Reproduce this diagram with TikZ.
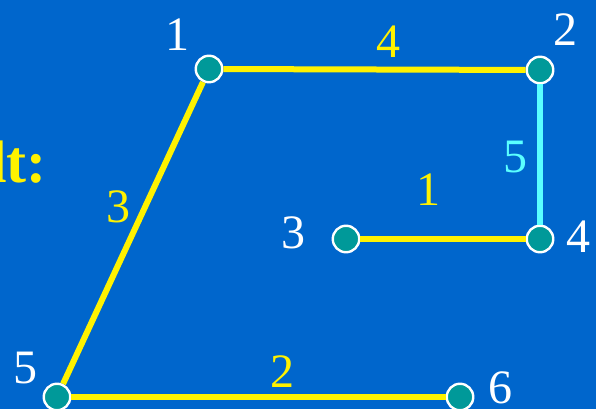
\documentclass[tikz,border=0pt]{standalone}
\usepackage{fontspec}
\setmainfont{Liberation Serif}
\usetikzlibrary{positioning}
\definecolor{bgblue}{RGB}{0,102,204}
\definecolor{vtxteal}{RGB}{0,153,153}
\definecolor{lightcyan}{RGB}{90,255,255}

\begin{document}
\begin{tikzpicture}[x=1pt,y=1pt,
  vtx/.style={circle,draw=white,line width=2.4pt,fill=vtxteal,
              minimum size=26.5pt,inner sep=0pt},
  edge/.style={line width=6pt,yellow},
  num/.style={white,inner sep=0pt,font=\fontsize{48}{48}\selectfont},
  wt/.style={yellow,inner sep=0pt,font=\fontsize{48}{48}\selectfont}]
\fill[bgblue] (0,0) rectangle (596,409);       % background
\useasboundingbox (0,0) rectangle (596,409);
% vertices
\node[vtx] (v1) at (209,340) {};
\node[vtx] (v2) at (540,339) {};
\node[vtx] (v3) at (346,170) {};
\node[vtx] (v4) at (540,170) {};
\node[vtx] (v5) at (57,12) {};
\node[vtx] (v6) at (460,12) {};
% tree edges
\draw[edge] (v1) -- (v2);
\draw[edge,lightcyan] (v2) -- (v4);
\draw[edge] (v3) -- (v4);
\draw[edge] (v1) -- (v5);
\draw[edge] (v5) -- (v6);
% vertex numbers
\node[num] (n1) at (177,374) {1};
\node[num] (n2) at (565,379) {2};
\node[num] (n3) at (293,176) {3};
\node[num] (n4) at (578,172) {4};
\node[num] (n5) at (25,41) {5};
\node[num] (n6) at (500,21) {6};
% weights
\node[wt] (w12) at (388,367) {4};
\node[wt,lightcyan] (w24) at (515,252) {5};
\node[wt] (w15) at (118,202) {3};
\node[wt] (w34) at (428,219) {1};
\node[wt] (w56) at (282,37) {2};
% cut-off heading
\node[yellow,inner sep=0pt,anchor=east,font=\fontsize{60}{60}\selectfont\bfseries]
  (head) at (47,247) {lt:};
\end{tikzpicture}
\end{document}
